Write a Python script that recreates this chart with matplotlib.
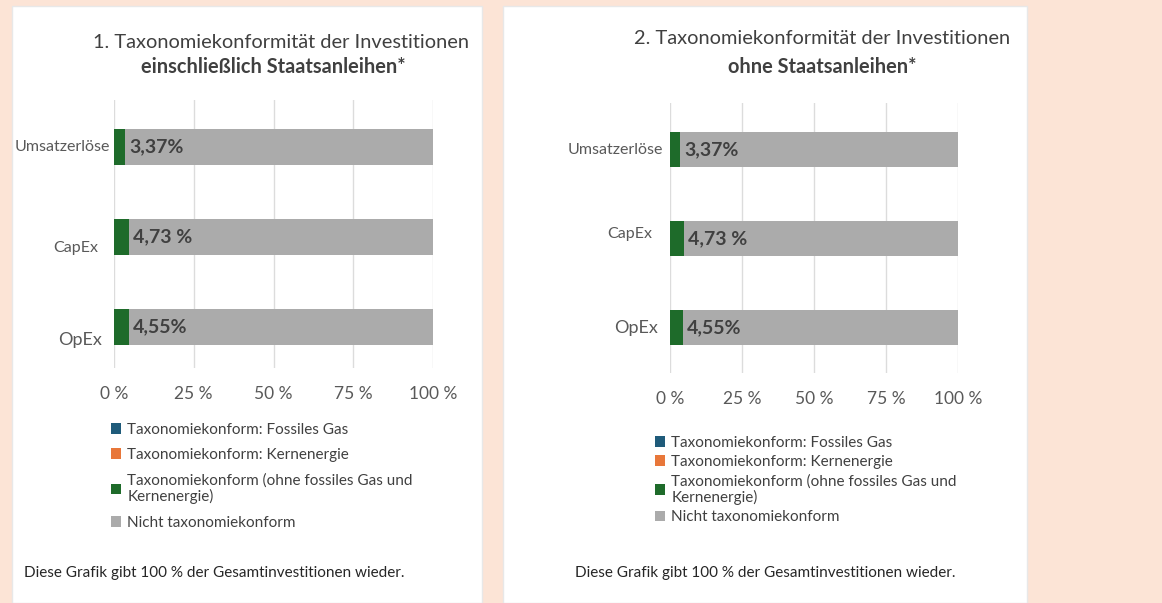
import matplotlib
matplotlib.use("Agg")
import matplotlib.pyplot as plt
from matplotlib.patches import Rectangle, Patch

plt.rcParams['font.family'] = ['Lato', 'DejaVu Sans']

# data
categories = ["OpEx", "CapEx", "Umsatzerlöse"]
gas = [0.0, 0.0, 0.0]
nuclear = [0.0, 0.0, 0.0]
aligned = [4.55, 4.73, 3.37]
value_labels = ["4,55%", "4,73 %", "3,37%"]
xticks = [0, 25, 50, 75, 100]
xtick_labels = ["0 %", "25 %", "50 %", "75 %", "100 %"]
legend_labels = ["Taxonomiekonform: Fossiles Gas",
                 "Taxonomiekonform: Kernenergie",
                 "Taxonomiekonform (ohne fossiles Gas und\nKernenergie)",
                 "Nicht taxonomiekonform"]
titles = [("1. Taxonomiekonformität der Investitionen", "einschließlich Staatsanleihen*"),
          ("2. Taxonomiekonformität der Investitionen", "ohne Staatsanleihen*")]
footnote = "Diese Grafik gibt 100 % der Gesamtinvestitionen wieder."

c_gas = "#1f5b7a"
c_nuc = "#e8773a"
c_green = "#1e6b2a"
c_grey = "#ababab"
txt = "#404040"

W, H = 1162, 603
fig = plt.figure(figsize=(W / 100, H / 100), dpi=100)
fig.patch.set_facecolor("#fce4d6")

def px(x, y):
    return x / W, 1 - y / H

# white panels
for x0, x1 in [(12, 482), (503, 1027)]:
    fig.patches.append(Rectangle((x0 / W, 0), (x1 - x0) / W, 1 - 6 / H,
                                 transform=fig.transFigure, facecolor="white",
                                 edgecolor="#e8e8e8", lw=1, zorder=-5))

# ylab_off: (gap, dy) pixel shifts of the category labels, order OpEx, CapEx, Umsatzerlöse
panels = [
    dict(ax=(114, 433, 100, 368), ylim=(-0.456, 2.52), title_x=(281, 273), title_y=(43, 67),
         ylab_off=[(12, 13), (16, 11), (4, 0)], ylab_size=[13, 11.5, 11.5],
         leg=(103, 415), lsp=0.75, foot=(24, 573)),
    dict(ax=(670, 958, 103, 373), ylim=(-0.51, 2.52), title_x=(822, 822), title_y=(38, 67),
         ylab_off=[(12, 0), (18, -4), (7, 1)], ylab_size=[13, 11.5, 11.5],
         leg=(647, 428), lsp=0.35, foot=(575, 573)),
]

for p, (t1, t2) in zip(panels, titles):
    x0, x1, y0, y1 = p["ax"]
    ax = fig.add_axes([x0 / W, 1 - y1 / H, (x1 - x0) / W, (y1 - y0) / H])
    ax.set_facecolor("none")
    y = list(range(len(categories)))
    rest = [100 - g - n - a for g, n, a in zip(gas, nuclear, aligned)]
    left = [0.0] * len(y)
    for vals, col in [(gas, c_gas), (nuclear, c_nuc), (aligned, c_green), (rest, c_grey)]:
        ax.barh(y, vals, left=left, height=0.4, color=col, zorder=3)
        left = [l + v for l, v in zip(left, vals)]
    for yi, a, lab in zip(y, aligned, value_labels):
        ax.annotate(lab, xy=(a, yi), xytext=(3, 0), textcoords="offset points",
                    va="center", ha="left", fontsize=14, fontweight="bold", color=txt, zorder=4)
    # category labels (drawn as annotations so each can sit a little off its bar)
    for yi, cat, (gap, dy), sz in zip(y, categories, p["ylab_off"], p["ylab_size"]):
        ax.annotate(cat, xy=(0, yi), xycoords=("axes fraction", "data"),
                    xytext=(-gap, -dy), textcoords="offset pixels",
                    ha="right", va="center", fontsize=sz, color="#595959")
    ax.set_xlim(0, 100)
    ax.set_ylim(*p["ylim"])
    ax.set_xticks(xticks)
    ax.set_xticklabels(xtick_labels, fontsize=12.5, color="#595959")
    ax.set_yticks([])
    ax.tick_params(axis="both", length=0)
    ax.tick_params(axis="x", pad=13)
    ax.grid(axis="x", color="#dcdcdc", lw=1, zorder=0)
    for s in ax.spines.values():
        s.set_visible(False)

    fig.text(*px(p["title_x"][0], p["title_y"][0]), t1, ha="center", va="center",
             fontsize=14.4, color=txt)
    fig.text(*px(p["title_x"][1], p["title_y"][1]), t2, ha="center", va="center",
             fontsize=14.4, fontweight="bold", color=txt)

    handles = [Patch(facecolor=c) for c in [c_gas, c_nuc, c_green, c_grey]]
    leg = fig.legend(handles, legend_labels, loc="upper left", bbox_to_anchor=px(*p["leg"]),
                     frameon=False, fontsize=11, labelcolor=txt, handlelength=0.7,
                     handleheight=0.7, handletextpad=0.4, labelspacing=p["lsp"], borderpad=0)
    for t in leg.get_texts():
        t.set_linespacing(1.1)
    fig.text(*px(*p["foot"]), footnote, ha="left", va="center", fontsize=11, color="#262626")

fig.savefig("out.png", dpi=100, facecolor=fig.get_facecolor())
